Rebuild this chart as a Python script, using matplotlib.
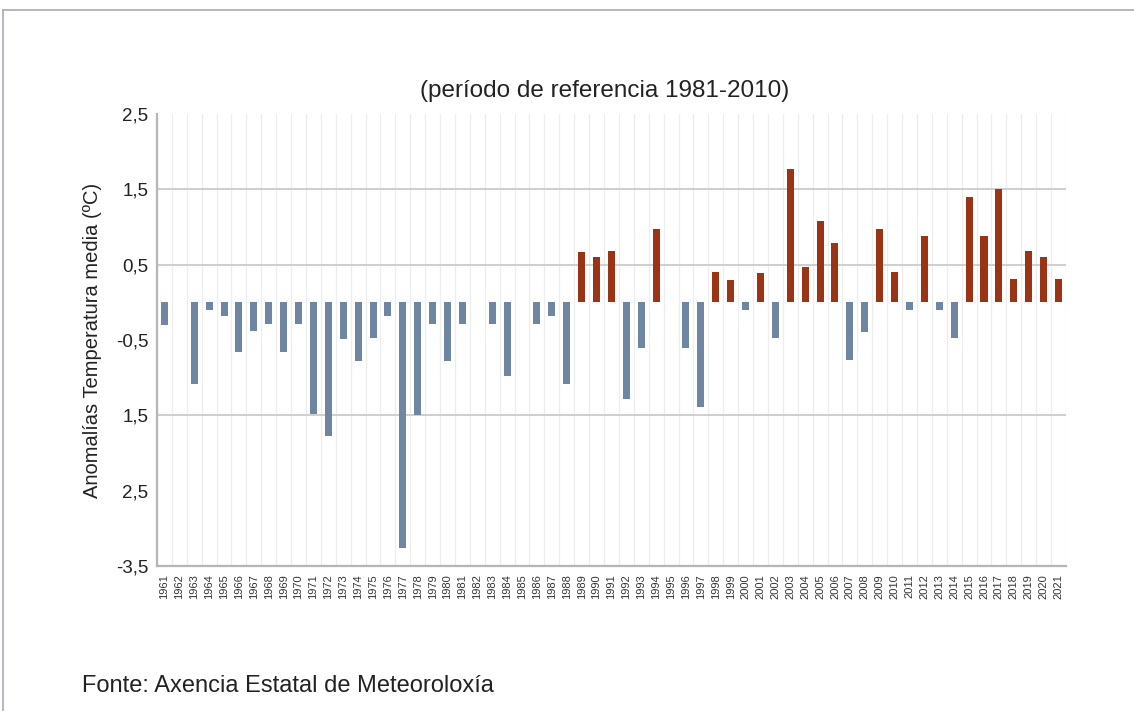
import matplotlib.pyplot as plt
from matplotlib.lines import Line2D

# Annual mean temperature anomalies (ºC), reference period 1981-2010
years = list(range(1961, 2022))
anomalies = [
    -0.30, 0.00, -1.09, -0.10, -0.18, -0.66, -0.38, -0.29, -0.66, -0.29,  # 1961-1970
    -1.48, -1.78, -0.49, -0.78, -0.47, -0.18, -3.26, -1.49, -0.29, -0.78,  # 1971-1980
    -0.29, 0.00, -0.29, -0.98, 0.00, -0.29, -0.18, -1.09, 0.67, 0.60,     # 1981-1990
    0.68, -1.28, -0.60, 0.97, 0.00, -0.60, -1.39, 0.40, 0.30, -0.10,      # 1991-2000
    0.39, -0.48, 1.77, 0.47, 1.08, 0.79, -0.77, -0.39, 0.97, 0.40,        # 2001-2010
    -0.10, 0.88, -0.10, -0.48, 1.40, 0.88, 1.51, 0.31, 0.68, 0.60,        # 2011-2020
    0.31,                                                                # 2021
]

ytick_values = [2.5, 1.5, 0.5, -0.5, -1.5, -2.5, -3.5]
ytick_labels = ['2,5', '1,5', '0,5', '-0,5', '1,5', '2,5', '-3,5']
grid_levels = [1.5, 0.5, -1.5]

title = '(período de referencia 1981-2010)'
ylabel = 'Anomalías Temperatura media (ºC)'
source = 'Fonte: Axencia Estatal de Meteoroloxía'

plt.rcParams['font.family'] = ['Liberation Sans', 'DejaVu Sans']

fig = plt.figure(figsize=(11.34, 7.11), dpi=100)
ax = fig.add_axes([0.1384, 0.2039, 0.8016, 0.6358])

x = list(range(len(years)))
colors = ['#9a3414' if v > 0 else '#6f86a3' for v in anomalies]
ax.bar(x, anomalies, width=0.47, color=colors, linewidth=0, zorder=3)

# faint separators between years
for k in range(len(years) + 1):
    ax.axvline(k - 0.5, color='#ededed', linewidth=0.9, zorder=1)
for g in grid_levels:
    ax.axhline(g, color='#cfcfcf', linewidth=1.4, zorder=2)

ax.set_xlim(-0.5, len(years) - 0.5)
ax.set_ylim(-3.5, 2.5)
ax.set_yticks(ytick_values)
ax.set_yticklabels(ytick_labels, fontsize=13.5, color='#222222')
ax.set_xticks(x)
ax.set_xticklabels([str(y) for y in years], rotation=90, fontsize=8, color='#333333')
ax.tick_params(axis='both', length=0, pad=6)
ax.tick_params(axis='x', pad=6)

for side in ['top', 'right']:
    ax.spines[side].set_visible(False)
for side in ['left', 'bottom']:
    ax.spines[side].set_color('#b5b5b5')
    ax.spines[side].set_linewidth(1.6)

ax.set_ylabel(ylabel, fontsize=14.5, color='#222222', labelpad=10)
fig.text(0.533, 0.872, title, ha='center', va='center', fontsize=17.5, color='#222222')
fig.text(0.072, 0.035, source, ha='left', va='center', fontsize=17, color='#222222')

# outer frame lines
fig.add_artist(Line2D([3 / 1134, 1.0], [1 - 10 / 711, 1 - 10 / 711],
                      transform=fig.transFigure, color='#a8a8bc', linewidth=1.2))
fig.add_artist(Line2D([3 / 1134, 3 / 1134], [0.0, 1 - 10 / 711],
                      transform=fig.transFigure, color='#a8a8bc', linewidth=1.2))

plt.savefig('out.png', dpi=100)
